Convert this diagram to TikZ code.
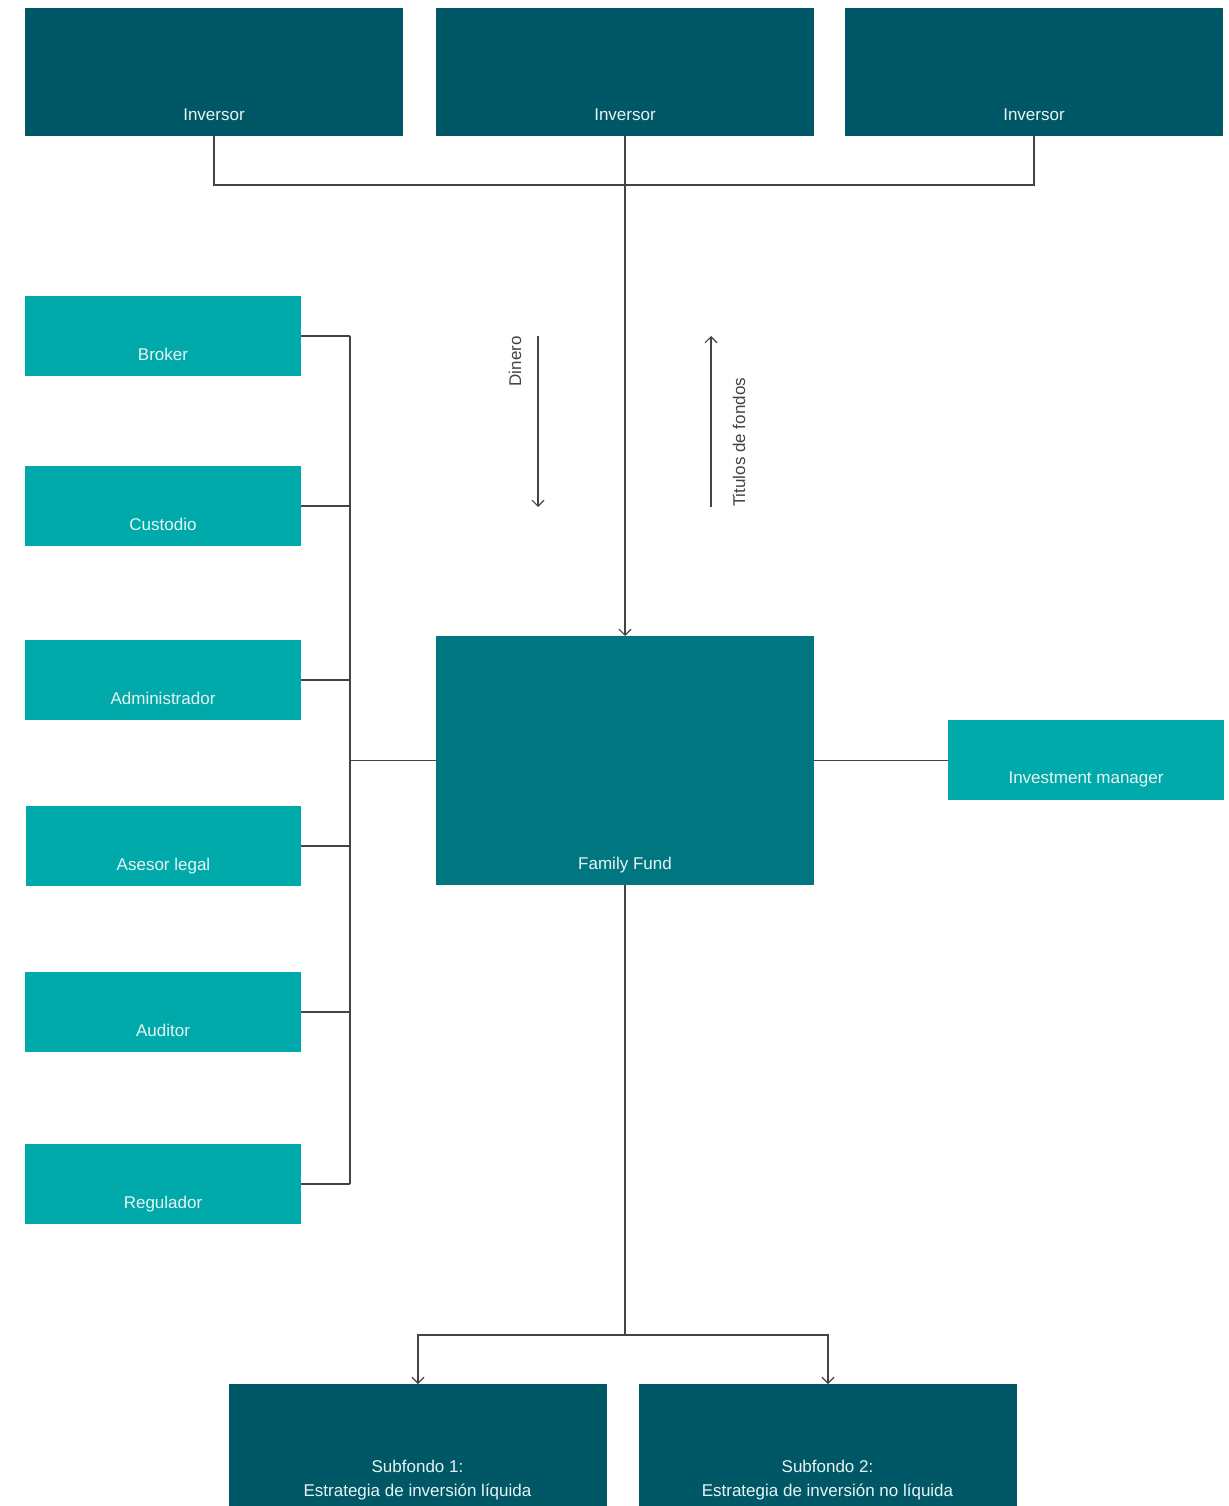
\documentclass[tikz,border=0pt]{standalone}
\usepackage{fontspec}
\setmainfont{Liberation Sans}
\usetikzlibrary{arrows.meta,calc}
\definecolor{darkteal}{HTML}{005866}
\definecolor{midteal}{HTML}{007780}
\definecolor{lightteal}{HTML}{00AAAA}
\definecolor{txt}{HTML}{E8F4F4}
\definecolor{ln}{HTML}{444444}
\begin{document}
\begin{tikzpicture}[x=1pt,y=-1pt,
  box/.style={draw=none, inner sep=0pt, outer sep=0pt, anchor=north west},
  darkbox/.style={box, fill=darkteal, minimum width=378pt, minimum height=128pt},
  lightbox/.style={box, fill=lightteal, minimum width=276pt, minimum height=80pt},
  ffbox/.style={box, fill=midteal, minimum width=378pt, minimum height=249pt},
  subbox/.style={box, fill=darkteal, minimum width=378pt, minimum height=122pt},
  lbl/.style={text=txt, font=\fontsize{17}{24}\selectfont, anchor=base, inner sep=0pt},
  sidelbl/.style={text=ln, font=\fontsize{17}{20}\selectfont, inner sep=0pt, rotate=90},
  conn/.style={draw=ln, line width=1.2pt},
  arr/.style={conn, -{Straight Barb[length=6pt,width=12pt,line width=1.2pt]}}
]
\useasboundingbox (0,0) rectangle (1228,1506);

% investors
\node[darkbox] (inv1) at (25,8) {};
\node[darkbox] (inv2) at (436,8) {};
\node[darkbox] (inv3) at (845,8) {};
\node[lbl] at ($(inv1.south)+(0,-15)$) {Inversor};
\node[lbl] at ($(inv2.south)+(0,-15)$) {Inversor};
\node[lbl] at ($(inv3.south)+(0,-15)$) {Inversor};

% service providers
\node[lightbox] (broker) at (25,296) {};
\node[lightbox] (custodio) at (25,466) {};
\node[lightbox] (admin) at (25,640) {};
\node[lightbox, minimum width=275pt] (asesor) at (26,806) {};
\node[lightbox] (auditor) at (25,972) {};
\node[lightbox] (regulador) at (25,1144) {};
\node[lbl] at ($(broker.south)+(0,-16)$) {Broker};
\node[lbl] at ($(custodio.south)+(0,-16)$) {Custodio};
\node[lbl] at ($(admin.south)+(0,-16)$) {Administrador};
\node[lbl] at ($(asesor.south)+(0,-16)$) {Asesor legal};
\node[lbl] at ($(auditor.south)+(0,-16)$) {Auditor};
\node[lbl] at ($(regulador.south)+(0,-16)$) {Regulador};

% family fund
\node[ffbox] (ff) at (436,636) {};
\node[lbl] at ($(ff.south)+(0,-16)$) {Family Fund};

% investment manager
\node[lightbox] (im) at (948,720) {};
\node[lbl] at ($(im.south)+(0,-17)$) {Investment manager};

% subfunds
\node[subbox] (sub1) at (229,1384) {};
\node[subbox] (sub2) at (639,1384) {};
\node[lbl, align=center, anchor=base] at (417.5,1496) {Subfondo 1:\\Estrategia de inversión líquida};
\node[lbl, align=center, anchor=base] at (827.5,1496) {Subfondo 2:\\Estrategia de inversión no líquida};

% investor connectors
\coordinate (bar) at (625,185);
\draw[conn] (inv1.south) |- (bar) -| (inv3.south);
\draw[arr] (inv2.south) -- (ff.north);

% flow labels
\coordinate (d1) at (538,336);
\coordinate (d2) at (538,507);
\draw[arr] (d1) -- (d2);
\node[sidelbl, anchor=base east] at (521,336) {Dinero};
\coordinate (t1) at (711,507);
\coordinate (t2) at (711,336);
\draw[arr] (t1) -- (t2);
\node[sidelbl, anchor=base west] at (745,507) {Titulos de fondos};

% provider bus
\coordinate (busx) at (350,0);
\foreach \n in {broker,custodio,admin,asesor,auditor,regulador}
  \draw[conn] (\n.east) -- (\n.east -| busx);
\draw[conn] (broker.east -| busx) -- (regulador.east -| busx);
\draw[conn] (ff.west -| busx) -- (ff.west);

% investment manager
\draw[conn] (ff.east) -- (ff.east -| im.west);

% subfunds
\coordinate (split) at (624,1335);
\draw[conn] (ff.south) -- (ff.south |- split);
\draw[arr] (ff.south |- split) -| (sub1.north);
\draw[arr] (ff.south |- split) -| (sub2.north);
\end{tikzpicture}
\end{document}
